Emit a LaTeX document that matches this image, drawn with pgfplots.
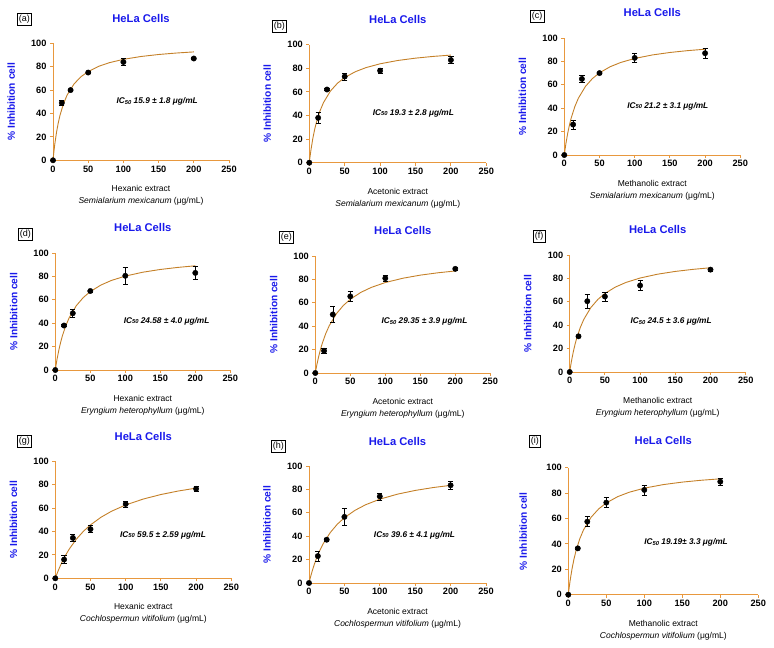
\documentclass[border=0pt]{standalone}
\usepackage{fontspec}
\setmainfont{Liberation Sans}
\usepackage{pgfplots}
\usepackage{pgfplotstable}
\pgfplotsset{compat=1.18}

\definecolor{axisor}{RGB}{232,152,62}
\definecolor{curveor}{RGB}{196,128,40}
\definecolor{titleblue}{RGB}{25,25,235}

% measured responses: mean and SD per extract
\pgfplotstableread{
x     ya  ea   yb  eb   yc  ec   yd    ed   ye    ee   yf    ef   yg    eg   yh    eh   yi    ei
0     0   0    0   0    0   0    0     0    0     0    0     0    0     0    0     0    0     0
12.5  49  2    38  5    26  4    38    1    19    2.5  30.5  1    16    3.5  23    4.5  36.5  1
25    60  1    62  1    65  3    48.5  3.5  50    7    60.5  6    34.5  3    37    1    57.5  4
50    75  1    73  3    70  1    67.5  1    65.5  4.5  64.5  4    42    3    56.5  7.5  72.5  4
100   84  3    78  2    83  4    80.5  7    81    2.5  74    4.5  63.5  2.5  74    3    82.5  4
200   87  1    87  3    87  4    83    5.5  89    1    87.5  1.5  76.5  2    83.5  3    89    3
}\pts

% fitted dose-response curves
\pgfplotstableread{
x    a      b      c      d      e      f      g      h      i
0    0      0      0      0      0      0      0      0      0
1    5.92   4.93   4.50   3.91   3.29   3.92   1.65   2.46   4.95
2.5  13.59  11.47  10.55  9.23   7.85   9.26   4.03   5.94   11.53
5    23.92  20.58  19.08  16.90  14.56  16.95  7.75   11.21  20.67
7.5  32.05  27.99  26.13  23.38  20.35  23.44  11.19  15.92  28.10
10   38.61  34.13  32.05  28.92  25.41  28.99  14.39  20.16  34.26
15   48.54  43.73  41.44  37.90  33.82  37.97  20.13  27.47  43.87
20   55.71  50.89  48.54  44.86  40.53  44.94  25.16  33.56  51.03
30   65.36  60.85  58.59  54.96  50.55  55.05  33.52  43.10  60.99
40   71.56  67.45  65.36  61.94  57.68  62.02  40.20  50.25  67.58
50   75.87  72.15  70.22  67.04  63.01  67.11  45.66  55.80  72.26
65   80.35  77.11  75.41  72.56  68.89  72.63  52.21  62.14  77.21
80   83.42  80.56  79.05  76.50  73.16  76.56  57.35  66.89  80.65
100  86.28  83.82  82.51  80.27  77.31  80.32  62.70  71.63  83.90
125  88.72  86.62  85.50  83.57  80.98  83.61  67.75  75.94  86.69
150  90.42  88.60  87.62  85.92  83.64  85.96  71.60  79.11  88.66
175  91.67  90.07  89.19  87.68  85.64  87.72  74.63  81.55  90.12
200  92.64  91.20  90.42  89.06  87.20  89.09  77.07  83.47  91.24
}\fit

\pgfplotsset{
  panel/.style={
    scale only axis, width=176pt, height=117pt,
    anchor=south west,
    xmin=0, xmax=250, ymin=0, ymax=100,
    axis lines=left,
    axis line style={draw=axisor, line width=0.9pt, -},
    xtick={0,50,...,250}, ytick={0,20,...,100},
    tick align=outside, major tick length=3pt,
    tick style={draw=axisor, line width=0.9pt},
    tick label style={font=\fontsize{9.2}{10}\selectfont\bfseries},
    xticklabel style={yshift=1pt},
    /pgf/number format/assume math mode=true,
    clip=false,
    title={HeLa Cells},
    title style={at={(axis description cs:0.5,1)}, anchor=center, yshift=19pt,
      font=\fontsize{11.2}{12}\selectfont\bfseries, text=titleblue},
    ylabel={\% Inhibition cell},
    ylabel style={at={(axis description cs:-0.238,0.5)}, anchor=center, rotate=0,
      font=\fontsize{10.2}{11}\selectfont\bfseries, text=titleblue},
    xlabel style={at={(axis description cs:0.5,0)}, anchor=north, yshift=-22pt,
      align=center, font=\fontsize{8.5}{12}\selectfont},
  },
  fitline/.style={curveor, line width=0.9pt, no marks},
  dots/.style={only marks, mark=*, mark size=2.7pt, black,
    error bars/.cd, y dir=both, y explicit,
    error bar style={line width=0.6pt, black},
    error mark options={rotate=90, mark size=2.6pt, line width=0.6pt, black}},
}
\tikzset{
  ictext/.style={font=\fontsize{8.3}{9}\selectfont\bfseries\itshape, anchor=center},
  tag/.style={draw, line width=0.6pt, inner sep=1.6pt, anchor=north west,
    font=\fontsize{9}{10}\selectfont},
}
\newcommand{\ic}[1]{IC\raisebox{-0.4pt}{\fontsize{5.8}{5}\selectfont 50} #1}

\begin{document}
\begin{tikzpicture}
\useasboundingbox (0pt,0pt) rectangle (774pt,648pt);

% ---------- row 1: Semialarium mexicanum ----------
\begin{axis}[panel, at={(53pt,487.7pt)},
  xlabel={Hexanic extract\\\textit{Semialarium mexicanum} (μg/mL)}]
  \addplot[fitline] table[x=x, y=a] \fit;
  \addplot[dots] table[x=x, y=ya, y error=ea] \pts;
  \node[ictext] at (axis cs:148,50) {\ic{15.9 ± 1.8 μg/mL}};
\end{axis}

\begin{axis}[panel, at={(309.3pt,485.3pt)}, width=177pt, height=118pt,
  xlabel={Acetonic extract\\\textit{Semialarium mexicanum} (μg/mL)}]
  \addplot[fitline] table[x=x, y=b] \fit;
  \addplot[dots] table[x=x, y=yb, y error=eb] \pts;
  \node[ictext] at (axis cs:147,42) {\ic{19.3 ± 2.8 μg/mL}};
\end{axis}

\begin{axis}[panel, at={(564.3pt,493pt)},
  xlabel={Methanolic extract\\\textit{Semialarium mexicanum} (μg/mL)}]
  \addplot[fitline] table[x=x, y=c] \fit;
  \addplot[dots] table[x=x, y=yc, y error=ec] \pts;
  \node[ictext] at (axis cs:147,42) {\ic{21.2 ± 3.1 μg/mL}};
\end{axis}

% ---------- row 2: Eryngium heterophyllum ----------
\begin{axis}[panel, at={(55.3pt,278pt)}, width=175pt,
  xlabel={Hexanic extract\\\textit{Eryngium heterophyllum} (μg/mL)}]
  \addplot[fitline] table[x=x, y=d] \fit;
  \addplot[dots] table[x=x, y=yd, y error=ed] \pts;
  \node[ictext] at (axis cs:159,42) {\ic{24.58 ± 4.0 μg/mL}};
\end{axis}

\begin{axis}[panel, at={(315.3pt,275pt)}, width=175pt,
  xlabel={Acetonic extract\\\textit{Eryngium heterophyllum} (μg/mL)}]
  \addplot[fitline] table[x=x, y=e] \fit;
  \addplot[dots] table[x=x, y=ye, y error=ee] \pts;
  \node[ictext] at (axis cs:156,44) {\ic{29.35 ± 3.9 μg/mL}};
\end{axis}

\begin{axis}[panel, at={(569.7pt,276pt)},
  xlabel={Methanolic extract\\\textit{Eryngium heterophyllum} (μg/mL)}]
  \addplot[fitline] table[x=x, y=f] \fit;
  \addplot[dots] table[x=x, y=yf, y error=ef] \pts;
  \node[ictext] at (axis cs:144,43) {\ic{24.5 ± 3.6 μg/mL}};
\end{axis}

% ---------- row 3: Cochlospermun vitifolium ----------
\begin{axis}[panel, at={(55.3pt,69.7pt)},
  xlabel={Hexanic extract\\\textit{Cochlospermun vitifolium} (μg/mL)}]
  \addplot[fitline] table[x=x, y=g] \fit;
  \addplot[dots] table[x=x, y=yg, y error=eg] \pts;
  \node[ictext] at (axis cs:153,37) {\ic{59.5 ± 2.59 μg/mL}};
\end{axis}

\begin{axis}[panel, at={(309pt,65pt)}, width=177pt,
  xlabel={Acetonic extract\\\textit{Cochlospermun vitifolium} (μg/mL)}]
  \addplot[fitline] table[x=x, y=h] \fit;
  \addplot[dots] table[x=x, y=yh, y error=eh] \pts;
  \node[ictext] at (axis cs:149,41) {\ic{39.6 ± 4.1 μg/mL}};
\end{axis}

\begin{axis}[panel, at={(568.3pt,53.3pt)}, width=190pt, height=127pt,
  ylabel style={at={(axis description cs:-0.237,0.5)}},
  title style={yshift=2pt},
  xlabel={Methanolic extract\\\textit{Cochlospermun vitifolium} (μg/mL)}]
  \addplot[fitline] table[x=x, y=i] \fit;
  \addplot[dots] table[x=x, y=yi, y error=ei] \pts;
  \node[ictext] at (axis cs:155,41) {\ic{19.19± 3.3 μg/mL}};
\end{axis}

% panel tags
\node[tag] at (17pt,635pt) {(a)};
\node[tag] at (272pt,628pt) {(b)};
\node[tag] at (530pt,638pt) {(c)};
\node[tag] at (18pt,420pt) {(d)};
\node[tag] at (279pt,417pt) {(e)};
\node[tag] at (533pt,418pt) {(f)};
\node[tag] at (17pt,213pt) {(g)};
\node[tag] at (271pt,208pt) {(h)};
\node[tag] at (529pt,213pt) {(i)};
\end{tikzpicture}
\end{document}
